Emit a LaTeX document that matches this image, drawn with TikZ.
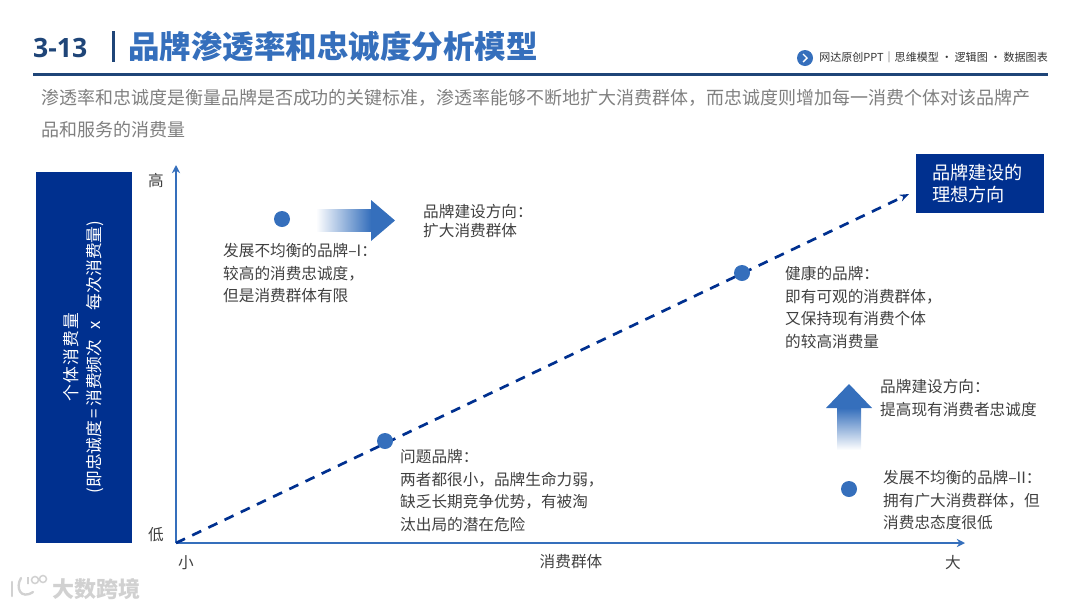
\documentclass[tikz,border=0pt]{standalone}
\usepackage{fontspec}
\setmainfont{Noto Sans CJK SC}
\newfontfamily\numfont{Open Sans}
\usetikzlibrary{arrows.meta}
\definecolor{navybar}{HTML}{1F4578}
\definecolor{titleblue}{HTML}{356FBC}
\definecolor{deepblue}{HTML}{00308F}
\definecolor{subgray}{HTML}{7F7F7F}
\definecolor{bodygray}{HTML}{404040}
\tikzset{
    bodytext/.style={anchor=north west, align=left, text=bodygray, font=\fontsize{13.35}{19.4}\selectfont, inner sep=0pt},
    axislabel/.style={text=bodygray, font=\fontsize{13.35}{15}\selectfont, inner sep=0pt},
    brandpoint/.style={circle, fill=titleblue, minimum size=0.48cm, inner sep=0pt},
    bluebox/.style={fill=deepblue, text=white, inner sep=0pt},
    axisline/.style={-{Stealth[length=7pt, width=7pt]}, titleblue, line width=2pt}
}
\begin{document}
\begin{tikzpicture}[x=0.03cm, y=-0.03cm]

    \useasboundingbox (0,0) rectangle (1080,608);

    % Draw the header
    \node[anchor=west, inner sep=0pt, text=navybar, font=\numfont\bfseries\fontsize{22.7}{26}\selectfont] (secno) at (33,48) {3-13};
    \fill[navybar] (112,31) rectangle (114.5,62);
    \node[anchor=west, inner sep=0pt, text=titleblue, font=\bfseries\fontsize{26.9}{30}\selectfont] (title) at (128,47) {品牌渗透率和忠诚度分析模型};
    \fill[navybar] (33,72.5) rectangle (1048,76);
    \fill[titleblue] (805,58) circle (8);
    \draw[white, line width=1.2pt] (803,54) -- (807,58) -- (803,62);
    \node[anchor=east, inner sep=0pt, text=black!80, font=\fontsize{9.4}{11}\selectfont] (tagline) at (1048,57) {网达原创PPT｜思维模型 · 逻辑图 · 数据图表};
    \node[anchor=north west, align=left, inner sep=0pt, text=subgray, font=\fontsize{15.35}{27.2}\selectfont] (intro) at (41,89) {渗透率和忠诚度是衡量品牌是否成功的关键标准，渗透率能够不断地扩大消费群体，而忠诚度则增加每一消费个体对该品牌产\\品和服务的消费量};

    % Draw the axes
    \coordinate (origin) at (176,543);
    \coordinate (ytop) at (176,165);
    \coordinate (xend) at (965,543);
    \draw[axisline] (origin) -- (ytop);
    \draw[axisline] (origin) -- (xend);
    \node[axislabel] (yhigh) at (156,181) {高};
    \node[axislabel] (ylow) at (156,535) {低};
    \node[axislabel] (xlow) at (186,563) {小};
    \node[axislabel] (xname) at (571,562) {消费群体};
    \node[axislabel] (xhigh) at (953,563) {大};

    % Draw the boxes
    \node[bluebox, minimum width=2.88cm, minimum height=11.13cm, anchor=north west] (ybox) at (36,172) {};
    \node[rotate=90, align=center, text=white, font=\fontsize{14.3}{19.6}\selectfont] (yname) at (84,357) {\addfontfeature{LetterSpace=8}个体消费量\\(即忠诚度\hspace{2pt}=\hspace{2pt}消费频次\hspace{9pt}x\hspace{9pt}每次消费量)};
    \node[bluebox, minimum width=3.84cm, minimum height=1.77cm, anchor=north west] (ideal) at (916,154) {};
    \node[anchor=north west, align=left, inner sep=0pt, text=white, font=\fontsize{15.5}{19}\selectfont] (idealtext) at (932,164) {品牌建设的\\理想方向};

    % Draw the diagonal
    \coordinate (idealtip) at (909,194);
    \draw[-{Stealth[length=8pt]}, deepblue, line width=2.3pt, dash pattern=on 8.5pt off 6.8pt] (origin) -- (idealtip);

    % Draw the points
    \node[brandpoint] (pointa) at (282,219) {};
    \node[brandpoint] (pointb) at (385,441) {};
    \node[brandpoint] (pointc) at (742,273) {};
    \node[brandpoint] (pointd) at (849,489) {};

    % Draw the block arrows
    \shade[left color=white, right color=titleblue, draw=none] (316,209) rectangle (371,231);
    \fill[titleblue] (371,200) -- (395,220.5) -- (371,241) -- cycle;
    \shade[top color=titleblue, bottom color=white, draw=none] (837,408) rectangle (861,450);
    \fill[titleblue] (826,408) -- (849,384) -- (872,408) -- cycle;

    % Label the points
    \node[bodytext] (texta) at (223,243) {发展不均衡的品牌–I：\\较高的消费忠诚度，\\但是消费群体有限};
    \node[bodytext, font=\fontsize{13.35}{16.4}\selectfont] (dira) at (423,204) {品牌建设方向：\\扩大消费群体};
    \node[bodytext] (textb) at (400,449) {问题品牌：\\两者都很小，品牌生命力弱，\\缺乏长期竞争优势，有被淘\\汰出局的潜在危险};
    \node[bodytext] (textc) at (785,266) {健康的品牌：\\即有可观的消费群体，\\又保持现有消费个体\\的较高消费量};
    \node[bodytext] (dirc) at (880,379) {品牌建设方向：\\提高现有消费者忠诚度};
    \node[bodytext] (textd) at (883,470) {发展不均衡的品牌–II：\\拥有广大消费群体，但\\消费忠态度很低};

    % Watermark
    \node[anchor=west, inner sep=0pt, text=black!18, font=\bfseries\fontsize{18.8}{20}\selectfont] (mark) at (52,589) {大数跨境};
    \draw[black!18, line width=2.2pt, line cap=round] (12,582) -- (12,596);
    \draw[black!18, line width=2pt, line cap=round] (21,578) .. controls (15,588) and (21,600) .. (33,592);
    \draw[black!18, line width=1.3pt] (28,577) -- (28,584) (35,580) circle (3.5) (43,579) circle (3.5);

\end{tikzpicture}
\end{document}
